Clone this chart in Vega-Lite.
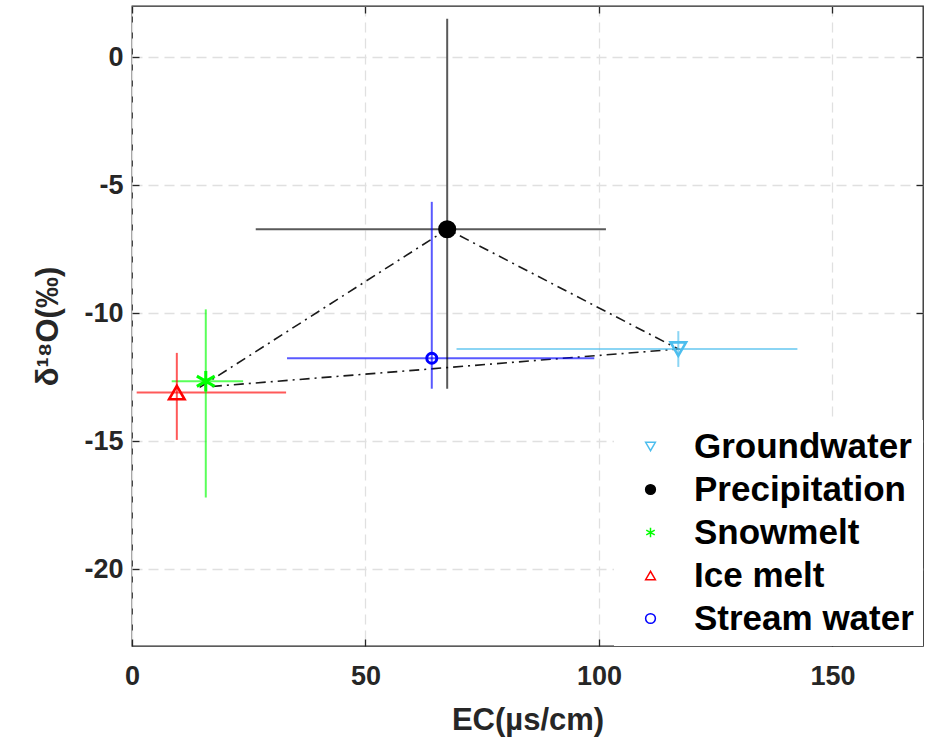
{
  "$schema": "https://vega.github.io/schema/vega-lite/v6.json",
  "width": 791,
  "height": 640,
  "autosize": {"type": "none"},
  "padding": {"left": 132, "top": 6, "right": 2, "bottom": 91},
  "background": "white",
  "resolve": {"axis": {"x": "independent", "y": "independent"}},
  "config": {
    "font": "Liberation Sans",
    "view": {"stroke": "#262626", "strokeWidth": 1.3},
    "axis": {
      "domain": false,
      "grid": true,
      "gridColor": "#e0e0e0",
      "gridDash": [10, 6],
      "gridWidth": 1.3,
      "tickColor": "#262626",
      "tickSize": -7,
      "tickWidth": 1.3,
      "labelFlush": false,
      "labelFont": "Liberation Sans",
      "labelFontWeight": "bold",
      "labelFontSize": 27,
      "labelColor": "#262626",
      "labelExpr": "replace(datum.label, '−', '-')",
      "titleFont": "Liberation Sans",
      "titleFontWeight": "bold",
      "titleFontSize": 31,
      "titleColor": "#262626"
    },
    "legend": {
      "labelFont": "Liberation Sans",
      "labelFontSize": 35,
      "labelFontWeight": "bold",
      "labelColor": "#000000",
      "labelLimit": 400,
      "symbolSize": 95,
      "symbolStrokeWidth": 1.5,
      "symbolOpacity": 1,
      "labelOffset": 26,
      "rowPadding": 7,
      "symbolOffset": 10
    }
  },
  "datasets": {
    "pts": [
      {"name": "Groundwater", "ec": 117, "d18o": -11.4, "ec_lo": 69.5, "ec_hi": 142.5, "o_lo": -12.1, "o_hi": -10.7},
      {"name": "Precipitation", "ec": 67.5, "d18o": -6.72, "ec_lo": 26.5, "ec_hi": 101.5, "o_lo": -12.95, "o_hi": 1.5},
      {"name": "Snowmelt", "ec": 15.8, "d18o": -12.66, "ec_lo": 8.5, "ec_hi": 23.8, "o_lo": -17.2, "o_hi": -9.85},
      {"name": "Ice melt", "ec": 9.6, "d18o": -13.1, "ec_lo": 1.0, "ec_hi": 33.0, "o_lo": -14.95, "o_hi": -11.55},
      {"name": "Stream water", "ec": 64.2, "d18o": -11.76, "ec_lo": 33.2, "ec_hi": 99.0, "o_lo": -12.95, "o_hi": -5.65}
    ],
    "tri": [
      {"ord": 1, "ec": 14.5, "d18o": -12.9},
      {"ord": 2, "ec": 67.5, "d18o": -6.72},
      {"ord": 3, "ec": 117, "d18o": -11.4},
      {"ord": 4, "ec": 14.5, "d18o": -12.9}
    ]
  },
  "layer": [
    {
      "data": {"name": "tri"},
      "mark": {"type": "line", "color": "#1a1a1a", "strokeWidth": 1.6, "strokeDash": [10, 5, 2, 5]},
      "encoding": {
        "x": {"field": "ec", "type": "quantitative", "scale": {"domain": [0, 169.4], "nice": false, "zero": false},
              "axis": {"title": "EC(µs/cm)", "values": [0, 50, 100, 150], "labelPadding": 24, "titlePadding": 16}},
        "y": {"field": "d18o", "type": "quantitative", "scale": {"domain": [-23, 2], "nice": false, "zero": false},
              "axis": {"title": "δ¹⁸O(‰)", "values": [0, -5, -10, -15, -20], "labelPadding": 16, "titlePadding": 19}},
        "order": {"field": "ord", "type": "quantitative"}
      }
    },
    {
      "data": {"name": "tri"},
      "mark": {"type": "point", "opacity": 0},
      "encoding": {
        "x": {"field": "ec", "type": "quantitative",
              "axis": {"orient": "top", "values": [0, 50, 100, 150], "labels": false, "grid": false, "title": null}},
        "y": {"field": "d18o", "type": "quantitative",
              "axis": {"orient": "right", "values": [0, -5, -10, -15, -20], "labels": false, "grid": false, "title": null}}
      }
    },
    {
      "data": {"name": "pts"},
      "mark": {"type": "rule", "strokeWidth": 2, "opacity": 0.65},
      "encoding": {
        "x": {"field": "ec_lo", "type": "quantitative", "axis": null},
        "x2": {"field": "ec_hi"},
        "y": {"field": "d18o", "type": "quantitative", "axis": null},
        "stroke": {"field": "name", "type": "nominal"}
      }
    },
    {
      "data": {"name": "pts"},
      "mark": {"type": "rule", "strokeWidth": 2, "opacity": 0.65},
      "encoding": {
        "x": {"field": "ec", "type": "quantitative", "axis": null},
        "y": {"field": "o_lo", "type": "quantitative", "axis": null},
        "y2": {"field": "o_hi"},
        "stroke": {"field": "name", "type": "nominal"}
      }
    },
    {
      "data": {"name": "pts"},
      "transform": [{"filter": "datum.name !== 'Stream water' && datum.name !== 'Snowmelt'"}],
      "mark": {"type": "point", "strokeWidth": 2.6, "opacity": 1, "size": 240},
      "encoding": {
        "x": {"field": "ec", "type": "quantitative", "axis": null},
        "y": {"field": "d18o", "type": "quantitative", "axis": null},
        "stroke": {"field": "name", "type": "nominal",
                   "legend": {"title": null, "orient": "bottom-right", "offset": 0, "padding": 9, "fillColor": "white"},
                   "scale": {"domain": ["Groundwater", "Precipitation", "Snowmelt", "Ice melt", "Stream water"],
                             "range": ["#4DBEEE", "#000000", "#00FF00", "#FF0000", "#0000FF"]}},
        "fill": {"field": "name", "type": "nominal",
                 "legend": {"title": null, "orient": "bottom-right", "offset": 0, "padding": 9, "fillColor": "white"},
                 "scale": {"domain": ["Groundwater", "Precipitation", "Snowmelt", "Ice melt", "Stream water"],
                           "range": ["transparent", "#000000", "transparent", "transparent", "transparent"]}},
        "shape": {"field": "name", "type": "nominal",
                  "legend": {"title": null, "orient": "bottom-right", "offset": 0, "padding": 9, "fillColor": "white"},
                  "scale": {"domain": ["Groundwater", "Precipitation", "Snowmelt", "Ice melt", "Stream water"],
                            "range": ["triangle-down", "circle", "M0,-1L0,1M-0.87,-0.5L0.87,0.5M-0.87,0.5L0.87,-0.5", "triangle-up", "circle"]}}
      }
    },
    {
      "data": {"name": "pts"},
      "transform": [{"filter": "datum.name === 'Snowmelt'"}],
      "mark": {"type": "point", "strokeWidth": 3, "opacity": 1, "size": 420},
      "encoding": {
        "x": {"field": "ec", "type": "quantitative", "axis": null},
        "y": {"field": "d18o", "type": "quantitative", "axis": null},
        "stroke": {"field": "name", "type": "nominal"},
        "fill": {"field": "name", "type": "nominal"},
        "shape": {"field": "name", "type": "nominal"}
      }
    },
    {
      "data": {"name": "pts"},
      "transform": [{"filter": "datum.name === 'Stream water'"}],
      "mark": {"type": "point", "strokeWidth": 3, "opacity": 1, "size": 100},
      "encoding": {
        "x": {"field": "ec", "type": "quantitative", "axis": null},
        "y": {"field": "d18o", "type": "quantitative", "axis": null},
        "stroke": {"field": "name", "type": "nominal"},
        "fill": {"field": "name", "type": "nominal"},
        "shape": {"field": "name", "type": "nominal"}
      }
    }
  ]
}
